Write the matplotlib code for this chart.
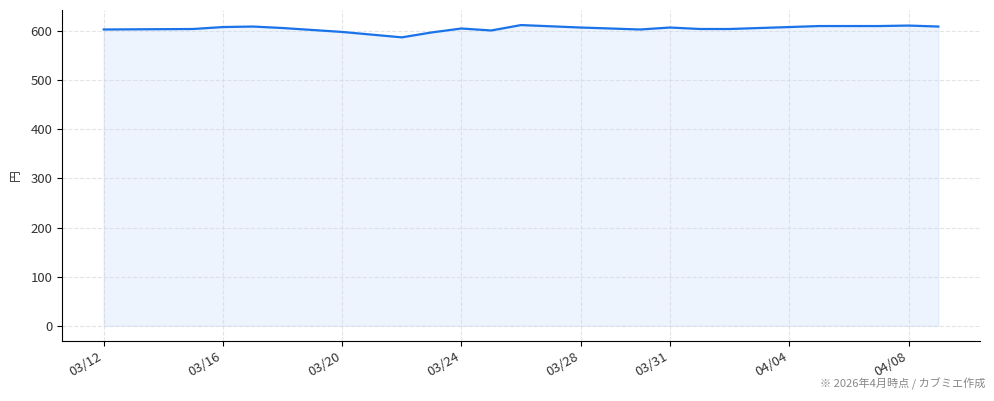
import matplotlib.pyplot as plt
import matplotlib.dates as mdates
import pandas as pd

plt.rcParams['font.family'] = ['Noto Sans CJK JP', 'DejaVu Sans']

# 日付と終値
dates = ['2026-03-12', '2026-03-15', '2026-03-16', '2026-03-17', '2026-03-18',
         '2026-03-20', '2026-03-22', '2026-03-23', '2026-03-24', '2026-03-25',
         '2026-03-26', '2026-03-28', '2026-03-30', '2026-03-31', '2026-04-01',
         '2026-04-02', '2026-04-04', '2026-04-05', '2026-04-07', '2026-04-08',
         '2026-04-09']
prices = [603, 604, 608, 609, 606,
          598, 587, 597, 605, 601,
          612, 607, 603, 607, 604,
          604, 608, 610, 610, 611,
          609]
tick_dates = ['2026-03-12', '2026-03-16', '2026-03-20', '2026-03-24',
              '2026-03-28', '2026-03-31', '2026-04-04', '2026-04-08']

x = pd.to_datetime(dates)
color = '#1a73e8'

fig, ax = plt.subplots(figsize=(9.94, 4.01), dpi=100)
fig.subplots_adjust(left=0.0624, right=0.986, bottom=0.15, top=0.975)

ax.plot(x, prices, color=color, linewidth=1.6)
ax.fill_between(x, prices, 0, color=color, alpha=0.08)

ax.set_xticks(pd.to_datetime(tick_dates))
ax.xaxis.set_major_formatter(mdates.DateFormatter('%m/%d'))
for lbl in ax.get_xticklabels():
    lbl.set_rotation(30)
    lbl.set_ha('right')

ax.set_ylabel('円', fontsize=8.5, color='#333333', labelpad=6)
ax.tick_params(labelsize=9.5, labelcolor='#333333')
ax.grid(True, linestyle='--', color='#d5d9e0', alpha=0.7, linewidth=0.8)
ax.spines['top'].set_visible(False)
ax.spines['right'].set_visible(False)

fig.text(0.991, 0.027, '※ 2026年4月時点 / カブミエ作成', ha='right', va='bottom',
         fontsize=8, color='#888888')

fig.savefig('out.png', dpi=100)
